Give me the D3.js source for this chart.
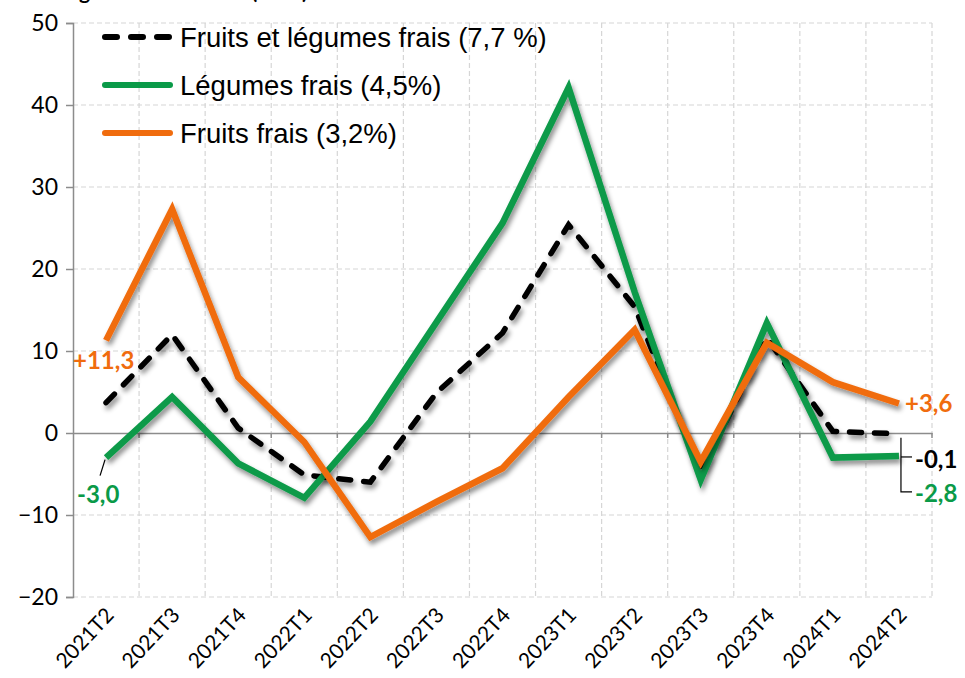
<!DOCTYPE html>
<html>

<head>
  <meta charset="UTF-8">
  <style>
      body {
        margin: 0;
        background: #fff;
      }
      svg {
        display: block;
      }
  </style>
</head>

<body>
  <script src="https://d3js.org/d3.v7.min.js"></script>
  <script>
    var trimestres = ['2021T2', '2021T3', '2021T4', '2022T1', '2022T2', '2022T3', '2022T4',
                      '2023T1', '2023T2', '2023T3', '2023T4', '2024T1', '2024T2'];
    var fruitsLegumes = [3.7, 12.0, 0.6, -5.1, -6.0, 4.9, 12.2, 25.4, 15.4, -4.9, 11.6, 0.2, -0.1];
    var legumes = [-3.0, 4.4, -3.7, -7.9, 1.4, 13.5, 25.6, 42.1, 17.2, -5.7, 13.4, -3.0, -2.8];
    var fruits = [11.3, 27.3, 6.8, -1.1, -12.7, -8.4, -4.3, 4.4, 12.6, -3.5, 11.0, 6.2, 3.6];
    var yTicks = [-20, -10, 0, 10, 20, 30, 40, 50];

    var series = [
      { nom: 'Fruits et légumes frais (7,7 %)', valeurs: fruitsLegumes, couleur: '#000000', tirets: true },
      { nom: 'Légumes frais (4,5%)', valeurs: legumes, couleur: '#0a9a48', tirets: false },
      { nom: 'Fruits frais (3,2%)', valeurs: fruits, couleur: '#f06c0e', tirets: false }
    ];

    var width = 965, height = 678;
    var gauche = 73, droite = 932, haut = 23, bas = 597;

    var svg = d3.select('body').append('svg')
      .attr('width', width)
      .attr('height', height);

    // ombre sous les courbes
    var filtre = svg.append('defs').append('filter')
      .attr('id', 'ombre')
      .attr('x', '-10%').attr('y', '-10%')
      .attr('width', '130%').attr('height', '130%');
    filtre.append('feDropShadow')
      .attr('dx', 2).attr('dy', 4)
      .attr('stdDeviation', 2.5)
      .attr('flood-color', '#000')
      .attr('flood-opacity', 0.45);

    var x = d3.scaleBand().domain(trimestres).range([gauche, droite]).padding(0);
    var y = d3.scaleLinear().domain([-20, 50]).range([bas, haut]);
    var cx = function(d) { return x(d) + x.bandwidth() / 2; };

    // titre coupé en haut (comme dans l'original)
    svg.append('text')
      .attr('x', 2).attr('y', -1)
      .style('font-family', 'Lato, sans-serif')
      .style('font-weight', 'bold')
      .style('font-size', '21px')
      .text('Taux de glissement annuel (en %)');

    // grille
    var grille = svg.append('g')
      .attr('stroke', '#d6d6d6')
      .attr('stroke-width', 1.2)
      .attr('stroke-dasharray', '5,3');
    grille.selectAll('.gh').data(yTicks.filter(function(t) { return t != 0; }))
      .enter().append('line')
      .attr('x1', gauche).attr('x2', droite)
      .attr('y1', function(d) { return y(d); })
      .attr('y2', function(d) { return y(d); });
    grille.selectAll('.gv').data(trimestres)
      .enter().append('line')
      .attr('x1', function(d) { return x(d) + x.bandwidth(); })
      .attr('x2', function(d) { return x(d) + x.bandwidth(); })
      .attr('y1', haut).attr('y2', bas);

    // axe y
    var axeY = svg.append('g')
      .attr('transform', 'translate(' + gauche + ',0)')
      .call(d3.axisLeft(y).tickValues(yTicks).tickSize(7).tickPadding(8));
    axeY.select('.domain').attr('stroke', '#8c8c8c').attr('stroke-width', 1.5);
    axeY.selectAll('.tick line').attr('stroke', '#8c8c8c').attr('stroke-width', 1.5);
    axeY.selectAll('text')
      .style('font-family', 'Lato, sans-serif')
      .style('font-size', '23px')
      .attr('fill', '#000');

    // axe x sur le zéro
    var axeX = svg.append('g')
      .attr('transform', 'translate(0,' + y(0) + ')')
      .call(d3.axisBottom(x).tickSize(0).tickFormat(''));
    axeX.select('.domain').attr('stroke', '#8c8c8c').attr('stroke-width', 1.5);
    axeX.selectAll('.petit').data(trimestres)
      .enter().append('line')
      .attr('x1', function(d) { return x(d) + x.bandwidth(); })
      .attr('x2', function(d) { return x(d) + x.bandwidth(); })
      .attr('y1', 0).attr('y2', 5)
      .attr('stroke', '#8c8c8c').attr('stroke-width', 1.5);

    // étiquettes des trimestres
    svg.append('g').selectAll('text').data(trimestres)
      .enter().append('text')
      .attr('transform', function(d) { return 'translate(' + (cx(d) + 9) + ',616) rotate(-47)'; })
      .attr('text-anchor', 'end')
      .style('font-family', 'Lato, sans-serif')
      .style('font-size', '21px')
      .text(function(d) { return d; });

    // courbes
    var ligne = d3.line()
      .x(function(d, i) { return cx(trimestres[i]); })
      .y(function(d) { return y(d); });

    series.forEach(function(s) {
      svg.append('path')
        .datum(s.valeurs)
        .attr('d', ligne)
        .attr('fill', 'none')
        .attr('stroke', s.couleur)
        .attr('stroke-width', s.tirets ? 5.5 : 6.5)
        .attr('stroke-linejoin', 'miter')
        .attr('stroke-linecap', s.tirets ? 'round' : 'butt')
        .attr('stroke-dasharray', s.tirets ? '12,13' : null)
        .attr('filter', 'url(#ombre)');
    });

    // légende
    var legende = svg.append('g');
    series.forEach(function(s, i) {
      var ly = 37 + i * 48;
      legende.append('line')
        .attr('x1', 105).attr('x2', 170)
        .attr('y1', ly).attr('y2', ly)
        .attr('stroke', s.couleur)
        .attr('stroke-width', 6)
        .attr('stroke-linecap', 'round')
        .attr('stroke-dasharray', s.tirets ? '12,14' : null);
      legende.append('text')
        .attr('x', 180).attr('y', ly + 10)
        .style('font-family', '"Liberation Sans", Arial, sans-serif')
        .style('font-size', '27.5px')
        .text(s.nom);
    });

    // étiquettes de valeurs
    var dernier = trimestres.length - 1;
    var fmt = function(v) {
      var t = Math.abs(v).toFixed(1).replace('.', ',');
      return (v >= 0 ? '+' : '-') + t;
    };
    var etiquette = function(px, py, v, couleur, ancre) {
      svg.append('text')
        .attr('x', px).attr('y', py)
        .attr('text-anchor', ancre || 'start')
        .attr('fill', couleur)
        .style('font-family', 'Lato, sans-serif')
        .style('font-weight', 'bold')
        .style('font-size', '24px')
        .text(v);
    };
    etiquette(73, y(fruits[0]) + 29, fmt(fruits[0]), '#f06c0e');
    etiquette(77, y(legumes[0]) + 45, fmt(legumes[0]), '#0a9a48');
    etiquette(905, y(fruits[dernier]) + 9, fmt(fruits[dernier]), '#f06c0e');
    etiquette(915, y(fruitsLegumes[dernier]) + 34, fmt(fruitsLegumes[dernier]), '#000');
    etiquette(915, y(legumes[dernier]) + 46, fmt(legumes[dernier]), '#0a9a48');

    // traits de rappel
    var xd = cx(trimestres[dernier]) + 2;
    svg.append('path')
      .attr('d', 'M' + xd + ',' + (y(fruitsLegumes[dernier]) + 4) + 'V' + (y(legumes[dernier]) + 36) + 'H' + 912)
      .attr('fill', 'none').attr('stroke', '#000').attr('stroke-width', 1.2);
    svg.append('path')
      .attr('d', 'M' + xd + ',' + (y(legumes[dernier]) + 1) + 'H' + 912)
      .attr('fill', 'none').attr('stroke', '#000').attr('stroke-width', 1.2);
    svg.append('path')
      .attr('d', 'M' + (cx(trimestres[0]) - 1) + ',' + (y(legumes[0]) + 2) + 'L' + (cx(trimestres[0]) - 6) + ',' + (y(legumes[0]) + 18))
      .attr('fill', 'none').attr('stroke', '#000').attr('stroke-width', 1.2);
  </script>
</body>

</html>
